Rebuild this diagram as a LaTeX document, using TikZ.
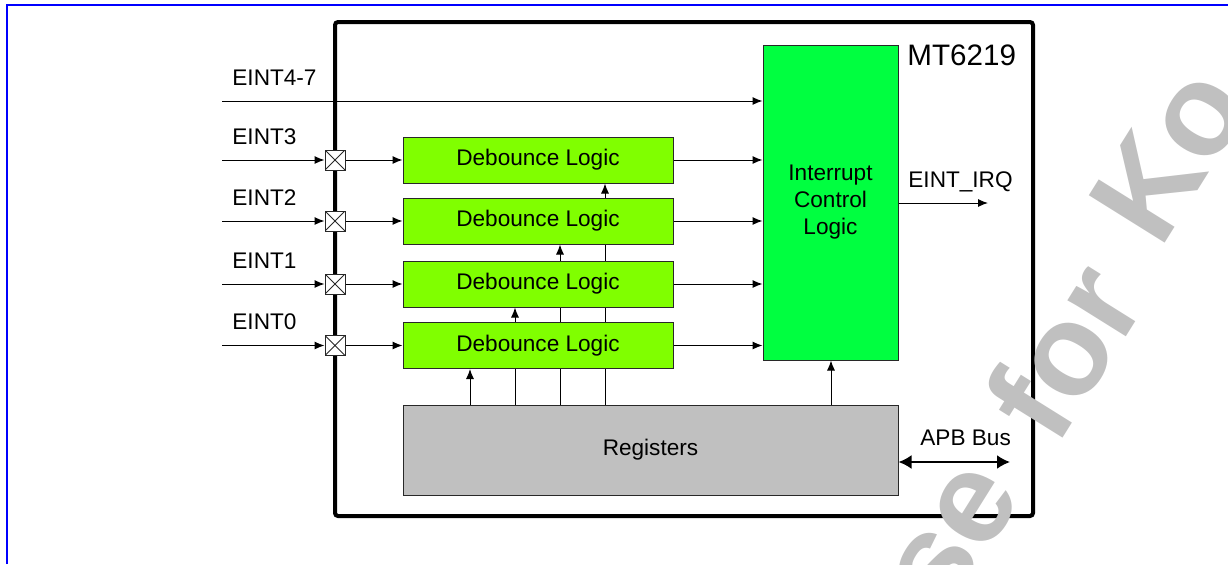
\documentclass[tikz,border=0pt]{standalone}
\usepackage{fontspec}
\setmainfont{Liberation Sans}
\usetikzlibrary{arrows.meta,backgrounds}
\definecolor{dbgreen}{RGB}{128,255,0}
\definecolor{icgreen}{RGB}{0,255,64}
\definecolor{reggray}{RGB}{192,192,192}
\definecolor{wmgray}{RGB}{192,192,192}
\definecolor{edge}{RGB}{40,40,40}
\definecolor{frameblue}{RGB}{0,0,255}
\begin{document}
\begin{tikzpicture}[x=0.5pt,y=-0.5pt,
  font=\fontsize{11.3}{13.5}\selectfont,
  block/.style={draw=edge,line width=0.5pt,inner sep=0pt,align=center},
  dbbox/.style={block,fill=dbgreen,minimum width=135pt,minimum height=23pt},
  pad/.style={draw=edge,fill=white,line width=0.5pt,minimum size=10pt,inner sep=0pt,
    path picture={\draw[edge,line width=0.4pt]
      (path picture bounding box.north west) -- (path picture bounding box.south east)
      (path picture bounding box.south west) -- (path picture bounding box.north east);}},
  wire/.style={line width=0.5pt,-{Latex[length=5pt,width=4pt]}},
  sig/.style={anchor=base west,inner sep=0pt},
  wm/.style={text=wmgray,font=\fontsize{65}{65}\bfseries\selectfont,rotate=58,inner sep=0pt}]
\useasboundingbox (0,0) rectangle (1228,564);

% page frame
\draw[frameblue,line width=1pt] (7,564) -- (7,5) -- (1228,5);

% chip outline
\node[draw,line width=2pt,rounded corners=1.5pt,minimum width=349pt,minimum height=247pt,inner sep=0pt] (chip) at (684,269) {};
\node[sig,font=\fontsize{14.8}{14.8}\selectfont] (name) at (907,65) {MT6219};

% blocks
\node[dbbox] (dl1) at (538,160) {Debounce Logic};
\node[dbbox] (dl2) at (538,221) {Debounce Logic};
\node[dbbox] (dl3) at (538,284) {Debounce Logic};
\node[dbbox] (dl4) at (538,345.5) {Debounce Logic};
\node[block,fill=icgreen,minimum width=67.5pt,minimum height=157.5pt] (icl) at (830.5,202.5) {Interrupt\\Control\\Logic};
\node[block,fill=reggray,minimum width=247.5pt,minimum height=45pt] (reg) at (650.5,450) {Registers};

% pads on the chip edge
\node[pad] (p1) at (335,160) {};
\node[pad] (p2) at (335,221) {};
\node[pad] (p3) at (335,284) {};
\node[pad] (p4) at (335,345.5) {};

% external signal ends
\coordinate (in0) at (222,101);
\coordinate (in1) at (222,160);
\coordinate (in2) at (222,221);
\coordinate (in3) at (222,284);
\coordinate (in4) at (222,345.5);
\coordinate (irq) at (988,203);
\coordinate (apb) at (1010,462);

% tap columns from the register block
\coordinate (c1) at (605,0);
\coordinate (c2) at (560,0);
\coordinate (c3) at (515,0);
\coordinate (c4) at (470,0);
\coordinate (c5) at (831,0);

% signal labels
\node[sig] (l0) at (232,85) {EINT4-7};
\node[sig] (l1) at (232,144) {EINT3};
\node[sig] (l2) at (232,205) {EINT2};
\node[sig] (l3) at (232,268) {EINT1};
\node[sig] (l4) at (232,329.5) {EINT0};
\node[sig] (lirq) at (908,187) {EINT\_IRQ};
\node[sig] (lapb) at (920,445) {APB Bus};

% connectors
\draw[wire] (in0) -- (icl.west |- in0);
\foreach \i in {1,2,3,4}{
  \draw[wire] (in\i) -- (p\i.west);
  \draw[wire] (p\i.east) -- (dl\i.west);
  \draw[wire] (dl\i.east) -- (icl.west |- dl\i.east);
}
\draw[wire] (icl.east |- irq) -- (irq);
\draw[wire] (reg.north -| c5) -- (icl.south -| c5);
\draw[line width=1pt,{Latex[length=6.5pt,width=7pt]}-{Latex[length=6.5pt,width=7pt]}] (reg.east |- apb) -- (apb);

\begin{pgfonlayer}{background}
  \draw[wire] (reg.north -| c1) -- (dl1.south -| c1);
  \draw[wire] (reg.north -| c2) -- (dl2.south -| c2);
  \draw[wire] (reg.north -| c3) -- (dl3.south -| c3);
  \draw[wire] (reg.north -| c4) -- (dl4.south -| c4);
\end{pgfonlayer}

% watermark
\begin{scope}
  \clip (0,0) rectangle (1228,564);
  \node[wm] (wm1) at (956,538) {se};
  \node[wm] (wm2) at (1063,350) {for};
  \node[wm] (wm3) at (1169,154) {Ko};
\end{scope}
\end{tikzpicture}
\end{document}
